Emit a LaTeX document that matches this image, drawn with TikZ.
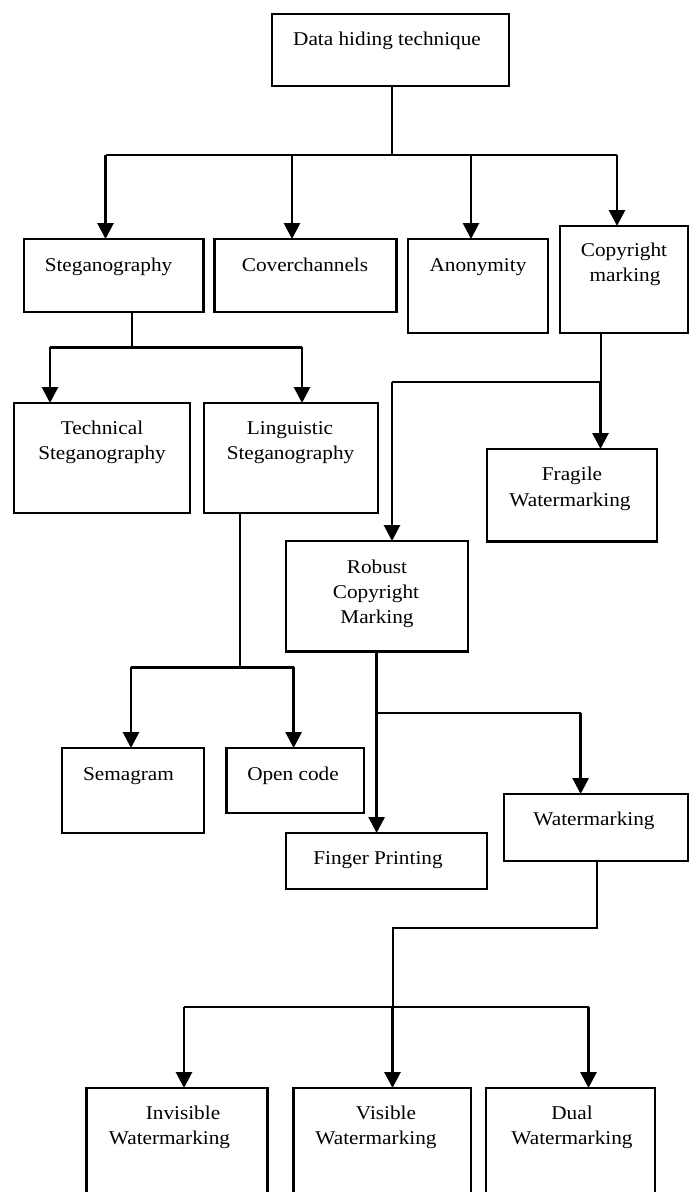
\documentclass[tikz,border=0pt]{standalone}
\usepackage{fontspec}
\setmainfont{Liberation Serif}[FakeStretch=1.09]
\usetikzlibrary{arrows.meta}
\begin{document}
\begin{tikzpicture}[x=1pt,y=-1pt,
  box/.style={draw,line width=2.2pt,rectangle,inner sep=0pt,outer sep=0pt,anchor=north west},
  lbl/.style={anchor=base,inner sep=0pt,font=\fontsize{19.5}{25}\selectfont},
  thinln/.style={line width=2pt},
  barln/.style={line width=2.4pt},
  arr/.style={line width=2.8pt,-{Triangle[length=16pt,width=16pt]}}]
\useasboundingbox (0,0) rectangle (690,1192);
\clip (0,0) rectangle (690,1192);
% boxes
\node[box,minimum width=237pt,minimum height=72pt] (dh) at (272,14) {};
\node[box,minimum width=179.5pt,minimum height=73pt] (steg) at (24,239) {};
\node[box,minimum width=182pt,minimum height=73pt] (cov) at (214.5,239) {};
\node[box,minimum width=140pt,minimum height=94pt] (anon) at (408,239) {};
\node[box,minimum width=128pt,minimum height=107pt] (copy) at (560,226) {};
\node[box,minimum width=176pt,minimum height=110pt] (tech) at (14,403) {};
\node[box,minimum width=174pt,minimum height=110pt] (ling) at (204,403) {};
\node[box,minimum width=170pt,minimum height=92.5pt] (frag) at (487,449) {};
\node[box,minimum width=182pt,minimum height=110.5pt] (rob) at (286,541) {};
\node[box,minimum width=142pt,minimum height=85pt] (sema) at (62,748) {};
\node[box,minimum width=137.5pt,minimum height=65pt] (open) at (226.5,748) {};
\node[box,minimum width=201pt,minimum height=56pt] (fing) at (286,833) {};
\node[box,minimum width=184pt,minimum height=67pt] (wm) at (504,794) {};
\node[box,minimum width=181pt,minimum height=130pt] (invis) at (86.5,1088) {};
\node[box,minimum width=177.5pt,minimum height=130pt] (vis) at (293.5,1088) {};
\node[box,minimum width=169pt,minimum height=130pt] (dual) at (486,1088) {};
% labels
\node[lbl] (tdh) at (387,45) {Data hiding technique};
\node[lbl] (tsteg) at (108.5,271) {Steganography};
\node[lbl] (tcov) at (305,271) {Coverchannels};
\node[lbl] (tanon) at (478,271) {Anonymity};
\node[lbl] (tcopya) at (624,256.7) {Copyright};
\node[lbl] (tcopyb) at (625,281.7) {marking};
\node[lbl] (ttecha) at (102,434) {Technical};
\node[lbl] (ttechb) at (102,459.5) {Steganography};
\node[lbl] (tlinga) at (290,434) {Linguistic};
\node[lbl] (tlingb) at (290.5,459.5) {Steganography};
\node[lbl] (tfraga) at (572,480.7) {Fragile};
\node[lbl] (tfragb) at (570,506) {Watermarking};
\node[lbl] (troba) at (377,573) {Robust};
\node[lbl] (trobb) at (376,598) {Copyright};
\node[lbl] (trobc) at (377,623) {Marking};
\node[lbl] (tsema) at (128.5,780) {Semagram};
\node[lbl] (topen) at (293,780) {Open code};
\node[lbl] (tfing) at (378,864) {Finger Printing};
\node[lbl] (twm) at (594,825.7) {Watermarking};
\node[lbl] (tinvisa) at (183,1119) {Invisible};
\node[lbl] (tinvisb) at (169.5,1144) {Watermarking};
\node[lbl] (tvisa) at (386,1119) {Visible};
\node[lbl] (tvisb) at (376,1144) {Watermarking};
\node[lbl] (tduala) at (572,1119) {Dual};
\node[lbl] (tdualb) at (572,1144) {Watermarking};
% top level connectors
\coordinate (j0) at (391.6,155);
\coordinate (b1) at (105.5,155);
\coordinate (b2) at (292,155);
\coordinate (b3) at (471,155);
\coordinate (b4) at (617,155);
\draw[thinln] (dh.south -| j0) -- (j0);
\draw[barln] (b1) -- (b4);
\draw[arr] (b1) -- (b1 |- steg.north);
\draw[arr] (b2) -- (b2 |- cov.north);
\draw[arr] (b3) -- (b3 |- anon.north);
\draw[arr] (b4) -- (b4 |- copy.north);
% steganography
\coordinate (s0) at (131.6,347.3);
\coordinate (s1) at (50,347.3);
\coordinate (s2) at (302,347.3);
\draw[thinln] (steg.south -| s0) -- (s0);
\draw[barln] (s1) -- (s2);
\draw[arr] (s1) -- (s1 |- tech.north);
\draw[arr] (s2) -- (s2 |- ling.north);
% copyright marking
\coordinate (c0) at (600.5,381.7);
\coordinate (c1) at (392,381.7);
\draw[thinln] (copy.south -| c0) -- (c0);
\draw[arr] (c0) -- (c0 |- frag.north);
\draw[barln] (c1) -- (c0);
\draw[arr] (c1) -- (c1 |- rob.north);
% linguistic
\coordinate (l0) at (239.7,667.3);
\coordinate (l1) at (131,667.3);
\coordinate (l2) at (293.6,667.3);
\draw[thinln] (ling.south -| l0) -- (l0);
\draw[barln] (l1) -- (l2);
\draw[arr] (l1) -- (l1 |- sema.north);
\draw[arr] (l2) -- (l2 |- open.north);
% robust
\coordinate (r0) at (376.6,713);
\coordinate (r1) at (580.6,713);
\draw[arr] (rob.south -| r0) -- (r0 |- fing.north);
\draw[thinln] (r0) -- (r1);
\draw[arr] (r1) -- (r1 |- wm.north);
% watermarking
\coordinate (w0) at (597,928);
\coordinate (w1) at (392.5,928);
\coordinate (w2) at (392.5,1006.7);
\coordinate (w3) at (184,1006.7);
\coordinate (w4) at (588.5,1006.7);
\draw[thinln] (wm.south -| w0) -- (w0) -- (w1) -- (w2);
\draw[barln] (w3) -- (w4);
\draw[arr] (w3) -- (w3 |- invis.north);
\draw[arr] (w2) -- (w2 |- vis.north);
\draw[arr] (w4) -- (w4 |- dual.north);
\end{tikzpicture}
\end{document}
